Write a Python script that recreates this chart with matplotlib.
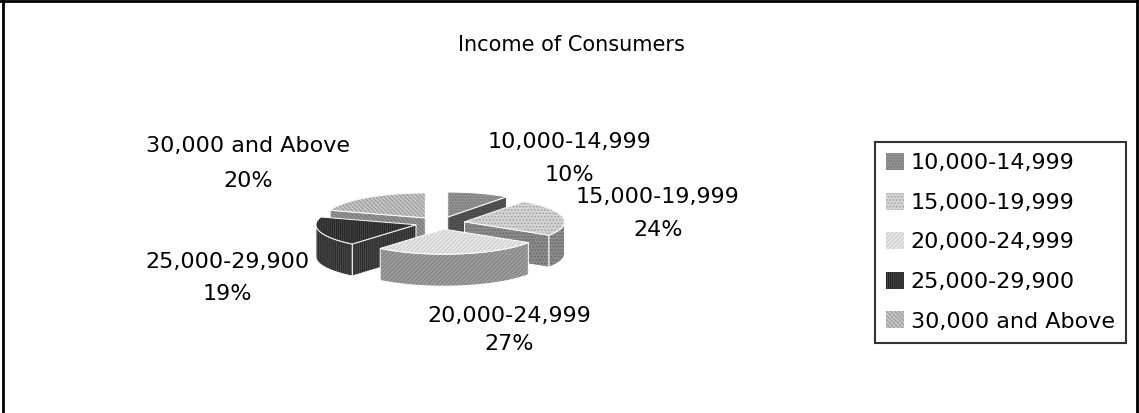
import numpy as np
import matplotlib.pyplot as plt
from matplotlib.patches import Polygon, Patch
from matplotlib.lines import Line2D

# Income brackets and their share of consumers (%)
categories = ['10,000-14,999', '15,000-19,999', '20,000-24,999',
              '25,000-29,900', '30,000 and Above']
shares = [10, 24, 27, 19, 20]

# grey fills and hatch textures for each bracket (top face, hatch, side face)
top_colors = ['#939393', '#d4d4d4', '#e8e8e8', '#4a4a4a', '#c8c8c8']
hatch_colors = ['#767676', '#a2a2a2', '#cbcbcb', '#222222', '#989898']
side_colors = ['#555555', '#8a8a8a', '#9e9e9e', '#282828', '#969696']
side_hatch = ['#404040', '#6a6a6a', '#828282', '#4a4a4a', '#767676']
hatches = ['......', '.....', '////////', '||||||||', '\\\\\\\\\\\\\\\\']

# where the labels sit (pixel coords) - name line and percent line
label_pos = [(569, 142, 175), (658, 197, 230), (509, 316, 344),
             (227, 262, 294), (248, 146, 181)]

plt.rcParams['hatch.linewidth'] = 0.8

fig = plt.figure(figsize=(11.39, 4.13), dpi=100)
ax = fig.add_axes([0, 0, 1, 1])
ax.set_xlim(0, 1139)
ax.set_ylim(413, 0)
ax.axis('off')

# pie geometry in pixels
cx, cy = 440, 223
rx, ry = 100, 25
depth = 32
explode = 0.25


def pt(th, r, z, dx, dy):
    return (cx + dx + rx * r * np.sin(th), cy + dy - ry * r * np.cos(th) + z)


def face(pts, fc, hc, h):
    ax.add_patch(Polygon(pts, closed=True, facecolor=fc, edgecolor=hc,
                         hatch=h, lw=0))
    ax.add_patch(Polygon(pts, closed=True, fill=False, edgecolor='white',
                         lw=0.7))


fracs = np.array(shares) / sum(shares)
bounds = np.concatenate([[0], np.cumsum(fracs)]) * 2 * np.pi
slices = []
for i in range(len(shares)):
    a, b = bounds[i], bounds[i + 1]
    mid = (a + b) / 2
    dx = explode * rx * np.sin(mid)
    dy = -explode * ry * np.cos(mid)
    slices.append((i, a, b, mid, dx, dy))

# back slices first, front slices last
for i, a, b, mid, dx, dy in sorted(slices, key=lambda s: -np.cos(s[3])):
    # radial cut faces
    if np.sin(a) < -1e-6:
        face([pt(a, 0, 0, dx, dy), pt(a, 1, 0, dx, dy),
              pt(a, 1, depth, dx, dy), pt(a, 0, depth, dx, dy)],
             side_colors[i], side_hatch[i], hatches[i])
    if np.sin(b) > 1e-6:
        face([pt(b, 0, 0, dx, dy), pt(b, 1, 0, dx, dy),
              pt(b, 1, depth, dx, dy), pt(b, 0, depth, dx, dy)],
             side_colors[i], side_hatch[i], hatches[i])
    # outer wall on the front half
    lo, hi = max(a, np.pi / 2), min(b, 3 * np.pi / 2)
    if hi > lo:
        th = np.linspace(lo, hi, 60)
        top = [pt(t, 1, 0, dx, dy) for t in th]
        bot = [pt(t, 1, depth, dx, dy) for t in th[::-1]]
        face(top + bot, side_colors[i], side_hatch[i], hatches[i])
    # top face
    th = np.linspace(a, b, 80)
    pts = [pt(a, 0, 0, dx, dy)] + [pt(t, 1, 0, dx, dy) for t in th]
    face(pts, top_colors[i], hatch_colors[i], hatches[i])

# slice labels
for i, (x, y1, y2) in enumerate(label_pos):
    ax.text(x, y1, categories[i], ha='center', va='center', fontsize=16)
    ax.text(x, y2, f'{round(fracs[i] * 100)}%', ha='center', va='center',
            fontsize=16)

ax.text(571, 45, 'Income of Consumers', ha='center', va='center', fontsize=15)

handles = [Patch(facecolor=top_colors[i], edgecolor=hatch_colors[i],
                 hatch=hatches[i], lw=0) for i in range(len(categories))]
leg = fig.legend(handles, categories, loc='upper left',
                 bbox_to_anchor=(875 / 1139, 1 - 142 / 413),
                 borderaxespad=0, fontsize=16, frameon=True, fancybox=False,
                 handlelength=0.8, handleheight=0.8, handletextpad=0.3,
                 labelspacing=0.87, borderpad=0.5)
leg.get_frame().set_edgecolor('black')
leg.get_frame().set_linewidth(1.5)

# outer chart border (top, left, right)
for xs, ys in [([0, 1], [0.997, 0.997]), ([0.003, 0.003], [0, 1]),
               ([0.998, 0.998], [0, 1])]:
    fig.add_artist(Line2D(xs, ys, color='black', lw=2,
                          transform=fig.transFigure))

fig.savefig('out.png', dpi=100)
